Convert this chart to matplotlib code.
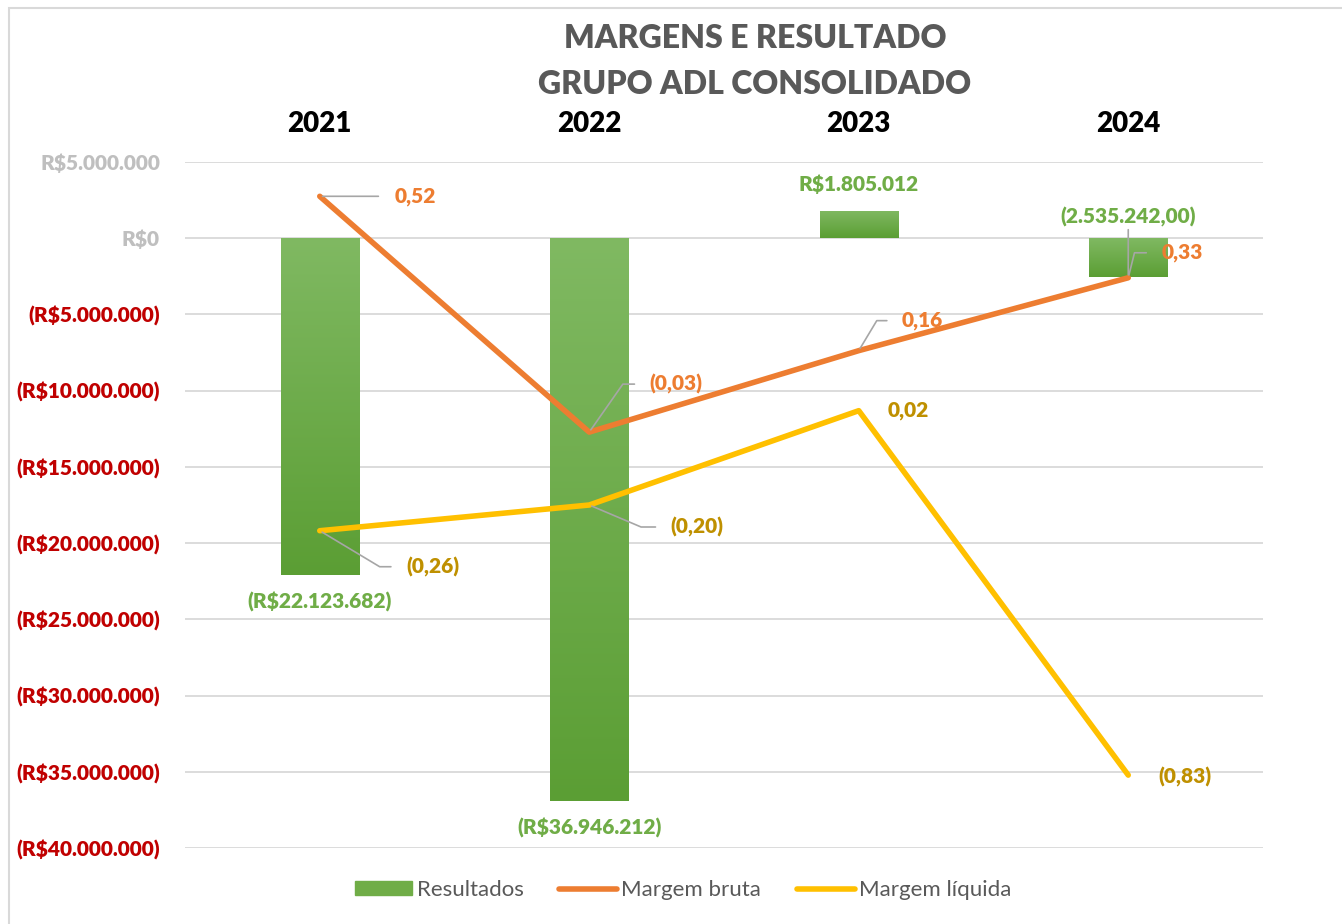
import matplotlib.pyplot as plt
import numpy as np
from matplotlib.patches import Rectangle
from matplotlib.lines import Line2D
from matplotlib.colors import LinearSegmentedColormap
from matplotlib.ticker import FuncFormatter, MultipleLocator

plt.rcParams['font.family'] = ['Lato', 'DejaVu Sans']

years = ['2021', '2022', '2023', '2024']
resultados = [-22123682, -36946212, 1805012, -2535242]
margem_bruta = [0.52, -0.03, 0.16, 0.33]
margem_liquida = [-0.26, -0.20, 0.02, -0.83]
bar_labels = ['(R$22.123.682)', '(R$36.946.212)', 'R$1.805.012', '(2.535.242,00)']

GREEN = '#70AD47'
ORANGE = '#ED7D31'
YELLOW = '#FFC000'
DARK_YELLOW = '#BF9000'
GRAY = '#A6A6A6'
W = 'heavy'


def brl(v, pos=None):
    s = 'R${:,.0f}'.format(abs(v)).replace(',', '.')
    return '({})'.format(s) if v < 0 else s


def margin(v):
    s = '{:.2f}'.format(abs(v)).replace('.', ',')
    return '({})'.format(s) if v < 0 else s


fig = plt.figure(figsize=(13.42, 9.24), dpi=100)
ax = fig.add_axes([185 / 1342, 1 - 848 / 924, 1078 / 1342, 686 / 924])

# chart border (top and left edges visible)
fig.patches.append(Rectangle((9 / 1342, -0.1), 1.2, 1.1 - 8 / 924, transform=fig.transFigure,
                             fill=False, edgecolor='#D9D9D9', lw=1.5))

x = np.arange(len(years))
bars = ax.bar(x, resultados, width=0.29, color=GREEN, zorder=2)

# vertical gradient on the bars
grad = np.linspace(0, 1, 256).reshape(-1, 1)
cmap = LinearSegmentedColormap.from_list('g', ['#5B9E34', '#80B962'])
for b in bars:
    x0, y0 = b.get_x(), b.get_y()
    w, h = b.get_width(), b.get_height()
    lo, hi = min(y0, y0 + h), max(y0, y0 + h)
    im = ax.imshow(grad, extent=[x0, x0 + w, lo, hi], origin='lower', cmap=cmap,
                   aspect='auto', zorder=3)
    im.set_clip_path(b)

ax.set_xlim(-0.5, 3.5)
ax.set_ylim(-40000000, 5000000)
ax.yaxis.set_major_locator(MultipleLocator(5000000))
ax.yaxis.set_major_formatter(FuncFormatter(brl))
ax.grid(axis='y', color='#D9D9D9', lw=1.3, zorder=0)
ax.set_axisbelow(True)
for s in ax.spines.values():
    s.set_visible(False)

ax.xaxis.tick_top()
ax.set_xticks(x)
ax.set_xticklabels(years, fontsize=20, fontweight=W, color='black')
ax.tick_params(axis='x', length=0, pad=18)
ax.tick_params(axis='y', length=0, pad=18, labelsize=15)
for t, v in zip(ax.get_yticklabels(), ax.get_yticks()):
    t.set_fontweight(W)
    t.set_color('#C00000' if v < 0 else '#BFBFBF')

# bar labels
bar_offsets = [(0, -26), (0, -27), (0, 26), (0, 60)]
for i, (v, lab) in enumerate(zip(resultados, bar_labels)):
    arrow = None
    if i == 3:
        arrow = dict(arrowstyle='-', color=GRAY, lw=1.2, shrinkA=0, shrinkB=0, relpos=(0.5, 0))
    ax.annotate(lab, (x[i], v), xytext=bar_offsets[i], textcoords='offset pixels',
                ha='center', va='center', fontsize=15, fontweight=W, color=GREEN,
                arrowprops=arrow, zorder=6)

ax2 = ax.twinx()
ax2.set_ylim(-1, 0.6)
ax2.axis('off')
ax2.plot(x, margem_bruta, color=ORANGE, lw=4, solid_capstyle='round', zorder=4)
ax2.plot(x, margem_liquida, color=YELLOW, lw=4, solid_capstyle='round', zorder=4)

# (offset px, leader angle at the point, or 'line' / None)
bruta_lbl = [((96, 0), 'line'), ((87, 48), 55), ((64, 30), 59), ((54, 25), 76)]
liq_lbl = [((113, -36), -31), ((108, -22), -23), ((50, 0), None), ((57, -2), None)]

for vals, specs, col in [(margem_bruta, bruta_lbl, ORANGE), (margem_liquida, liq_lbl, DARK_YELLOW)]:
    for i, (v, (off, ang)) in enumerate(zip(vals, specs)):
        arrow = None
        if ang == 'line':
            arrow = dict(arrowstyle='-', color=GRAY, lw=1.2, shrinkA=10, shrinkB=2, relpos=(0, 0.5))
        elif ang is not None:
            arrow = dict(arrowstyle='-', color=GRAY, lw=1.2, shrinkA=9, shrinkB=2, relpos=(0, 0.5),
                         connectionstyle='angle,angleA=0,angleB={},rad=0'.format(ang))
        ax2.annotate(margin(v), (x[i], v), xytext=off, textcoords='offset pixels',
                     ha='center', va='center', fontsize=15, fontweight=W, color=col,
                     arrowprops=arrow, zorder=6)

fig.text(0.5625, 1 - 39 / 924, 'MARGENS E RESULTADO', ha='center', va='center',
         fontsize=23, fontweight=W, color='#595959')
fig.text(0.5625, 1 - 84 / 924, 'GRUPO ADL CONSOLIDADO', ha='center', va='center',
         fontsize=23, fontweight=W, color='#595959')

handles = [Rectangle((0, 0), 1, 1, color=GREEN),
           Line2D([], [], color=ORANGE, lw=4, solid_capstyle='round'),
           Line2D([], [], color=YELLOW, lw=4, solid_capstyle='round')]
fig.legend(handles, ['Resultados', 'Margem bruta', 'Margem líquida'],
           loc='center', bbox_to_anchor=(683 / 1342, 1 - 890 / 924), ncol=3, frameon=False,
           fontsize=16, labelcolor='#595959', handlelength=2.6, handleheight=0.6,
           handletextpad=0.2, columnspacing=1.6)

fig.savefig('out.png', dpi=100)
